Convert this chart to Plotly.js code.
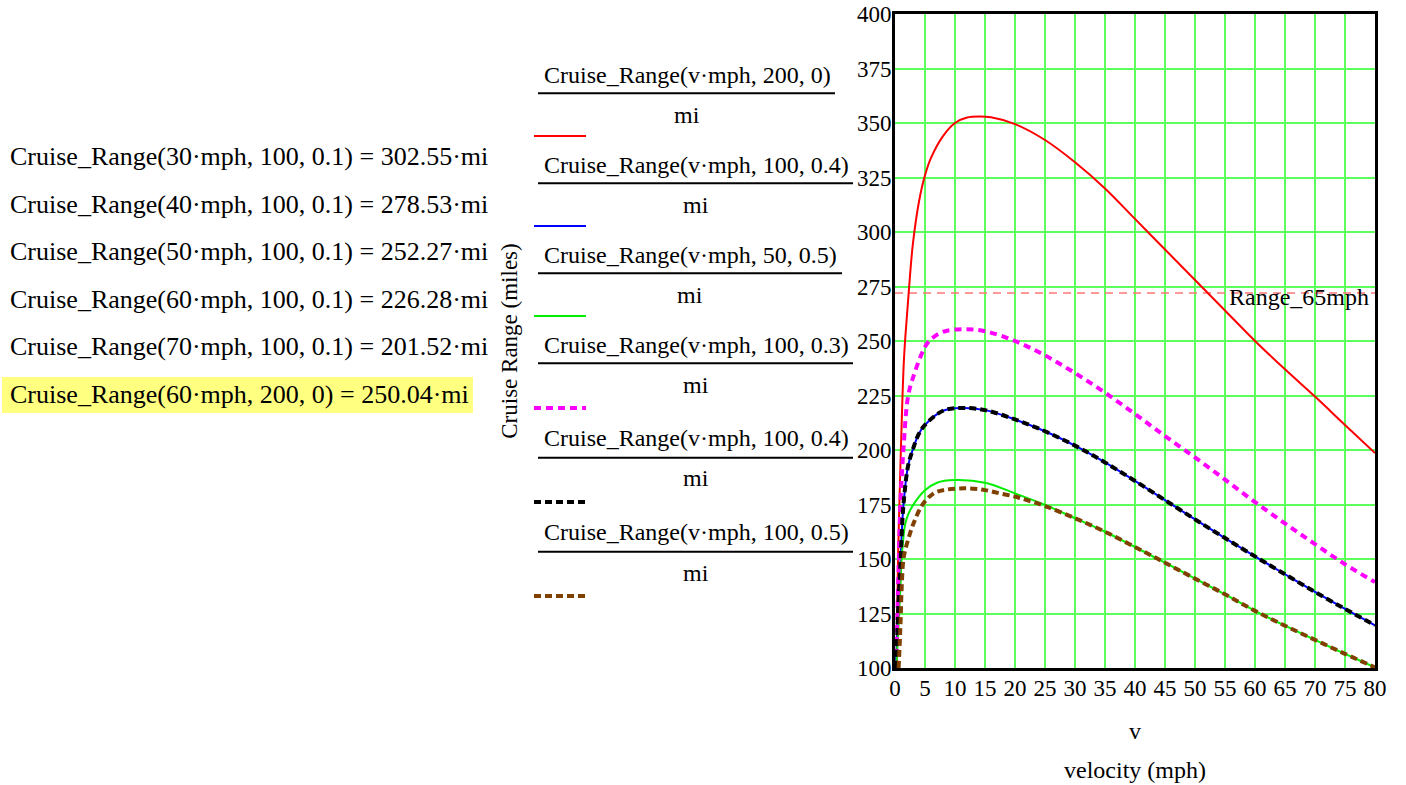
<!DOCTYPE html>
<html>
<head>
<meta charset="utf-8">
<script src="https://cdn.plot.ly/plotly-3.0.1.min.js"></script>
<style>
html,body{margin:0;padding:0;background:#fff;}
#chart{width:1406px;height:785px;}
</style>
</head>
<body>
<div id="chart"></div>
<script>
// ---------------- DATA ----------------
// velocity samples (mph) and Cruise Range (miles)
const vRed = [0.25, 0.5, 0.75, 1, 1.5, 2, 2.5, 3, 4, 5, 6, 8, 10, 12, 14, 16, 20, 25, 30, 35, 40, 45, 50, 55, 60, 65, 70, 75, 80];
const rangeRed = [100, 150, 177, 202, 242, 262, 280, 295, 314, 326, 334, 344, 350, 352.5, 353, 352.6, 349.5, 342.2, 332, 320, 306, 292, 278, 264, 250, 237, 224.5, 211.5, 198.6];

const vBlue = [0.1, 0.3, 0.55, 0.85, 1.0, 1.4, 2.2, 2.95, 3.9, 5, 8, 11, 15, 20, 25, 30, 35, 40, 45, 50, 55, 60, 65, 70, 75, 80];
const rangeBlue = [100, 110, 128, 144, 154, 174.5, 193, 200, 207, 211.5, 218, 219.3, 218.3, 214, 208.6, 202, 194.3, 185.8, 177, 168.2, 159.6, 151.2, 143, 134.9, 127.1, 119.6];

const vGreen = [0.2, 0.3, 0.6, 0.9, 1.1, 1.3, 1.7, 2.2, 3.2, 5, 7, 10, 15, 20, 25, 30, 35, 40, 45, 50, 55, 60, 65, 70, 75, 80];
const rangeGreen = [100, 105, 120, 137, 150, 157, 166, 170.5, 175.5, 181.5, 185, 186.2, 185, 180.1, 174.8, 168.7, 162.5, 155.5, 148.3, 141, 133.8, 126.2, 119.4, 112.9, 106.5, 100.3];

const vMagenta = [0.2, 0.4, 0.6, 0.9, 1.4, 2.2, 3.1, 4.5, 5.6, 8, 11.4, 15, 20, 25, 30, 35, 40, 45, 50, 55, 60, 65, 70, 75, 80];
const rangeMagenta = [100, 125, 146, 175, 200, 225, 234, 244.4, 249.7, 254.2, 255.4, 254.5, 250, 243.4, 235.3, 226.3, 216.5, 206.4, 196.6, 186.4, 176.1, 166.3, 156.8, 147.6, 139.4];

const vBlack = vBlue;
const rangeBlack = rangeBlue;

const vBrown = [0.6, 0.8, 0.95, 1.1, 1.4, 1.7, 2.2, 3.1, 4.6, 6.4, 8.3, 12, 15, 17.5, 20, 22, 25, 30, 35, 40, 45, 50, 55, 60, 65, 70, 75, 80];
const rangeBrown = [100, 112, 123, 136, 150, 154, 159, 166.4, 175, 180, 181.7, 182.4, 181.6, 180.1, 178.6, 177, 174.3, 168.7, 162.5, 155.5, 148.3, 141, 133.8, 126.2, 119.4, 112.9, 106.5, 100.3];

const range65mph = 272;
const range65Label = "Range_65mph";

const seriesLabels = [
  "Cruise_Range(v·mph, 200, 0)",
  "Cruise_Range(v·mph, 100, 0.4)",
  "Cruise_Range(v·mph, 50, 0.5)",
  "Cruise_Range(v·mph, 100, 0.3)",
  "Cruise_Range(v·mph, 100, 0.4)",
  "Cruise_Range(v·mph, 100, 0.5)"
];
const denominator = "mi";

const leftLines = [
  "Cruise_Range(30·mph, 100, 0.1) = 302.55·mi",
  "Cruise_Range(40·mph, 100, 0.1) = 278.53·mi",
  "Cruise_Range(50·mph, 100, 0.1) = 252.27·mi",
  "Cruise_Range(60·mph, 100, 0.1) = 226.28·mi",
  "Cruise_Range(70·mph, 100, 0.1) = 201.52·mi",
  "Cruise_Range(60·mph, 200, 0) = 250.04·mi"
];

const xTitle = "velocity (mph)";
const xVarName = "v";
const yTitle = "Cruise Range (miles)";

// ---------------- STYLE / LAYOUT ----------------
const FONT = "Liberation Serif, Times New Roman, serif";
const W = 1406, H = 785;
const PL = 895, PR = 1375, PT = 14, PB = 668;
const xp = px => (px - PL) / (PR - PL);
const yp = py => (PB - py) / (PB - PT);

const styles = [
  {color: "#ff0000", width: 2, dash: "solid"},
  {color: "#0000ff", width: 2, dash: "solid"},
  {color: "#00ee00", width: 2, dash: "solid"},
  {color: "#ff00ff", width: 4, dash: "7px,5px"},
  {color: "#000000", width: 4, dash: "7px,4px"},
  {color: "#804000", width: 4, dash: "7px,4px"}
];
const xs = [vRed, vBlue, vGreen, vMagenta, vBlack, vBrown];
const ys = [rangeRed, rangeBlue, rangeGreen, rangeMagenta, rangeBlack, rangeBrown];

const xRange = [0, 80];
const traces = [];
traces.push({
  x: xRange, y: xRange.map(() => range65mph), mode: "lines", type: "scatter",
  line: {color: "#ff7777", width: 1.5, dash: "8px,6px"}, hoverinfo: "skip", showlegend: false
});
for (let i = 0; i < 6; i++) {
  traces.push({
    x: xs[i], y: ys[i], type: "scatter", mode: "lines", name: seriesLabels[i],
    line: {color: styles[i].color, width: styles[i].width, dash: styles[i].dash, shape: "spline", smoothing: 1},
    showlegend: false
  });
}

const annotations = [];
const shapes = [];

// legend-like fractions
const numY = [75, 165, 255, 345, 438, 532];
const barY = [93.3, 183.3, 273.3, 363.3, 457.7, 551.7];
const miY = [115, 205, 295, 385, 478, 573];
const sampY = [136, 226, 316, 408, 502, 596];
const barEnd = [835, 853, 842, 853, 853, 853];
for (let i = 0; i < 6; i++) {
  annotations.push({xref: "paper", yref: "paper", x: xp(542), y: yp(numY[i]), xanchor: "left", yanchor: "middle",
    text: seriesLabels[i], showarrow: false, font: {family: FONT, size: 24, color: "#000"}});
  shapes.push({type: "line", xref: "paper", yref: "paper", x0: xp(538), x1: xp(barEnd[i]), y0: yp(barY[i]), y1: yp(barY[i]),
    line: {color: "#000", width: 2}});
  annotations.push({xref: "paper", yref: "paper", x: xp((538 + barEnd[i]) / 2), y: yp(miY[i]), xanchor: "center", yanchor: "middle",
    text: denominator, showarrow: false, font: {family: FONT, size: 24, color: "#000"}});
  shapes.push({type: "line", xref: "paper", yref: "paper", x0: xp(534), x1: xp(586), y0: yp(sampY[i]), y1: yp(sampY[i]),
    line: {color: styles[i].color, width: styles[i].width, dash: styles[i].dash}});
}

// left evaluated expressions
const leftY = [156.5, 204, 251.5, 299, 347, 395];
shapes.push({type: "rect", xref: "paper", yref: "paper", x0: xp(2), x1: xp(473), y0: yp(413), y1: yp(377),
  fillcolor: "#ffff80", line: {width: 0}, layer: "below"});
for (let i = 0; i < leftLines.length; i++) {
  annotations.push({xref: "paper", yref: "paper", x: xp(8), y: yp(leftY[i]), xanchor: "left", yanchor: "middle",
    text: leftLines[i], showarrow: false, font: {family: FONT, size: 26, color: "#000"}});
}

// Range_65mph label
annotations.push({xref: "x", yref: "y", x: xRange[1], y: range65mph, xanchor: "right", yanchor: "middle",
  xshift: -4, yshift: -4, text: range65Label, showarrow: false, font: {family: FONT, size: 24, color: "#000"}});

// variable name under axis
annotations.push({xref: "paper", yref: "paper", x: 0.5, y: yp(731), xanchor: "center", yanchor: "middle",
  text: xVarName, showarrow: false, font: {family: FONT, size: 24, color: "#000"}});

const layout = {
  width: W, height: H,
  margin: {l: PL, r: W - PR, t: PT, b: H - PB, pad: 0},
  paper_bgcolor: "#fff", plot_bgcolor: "#fff",
  showlegend: false,
  font: {family: FONT, size: 23, color: "#000"},
  xaxis: {
    range: xRange, dtick: 5, tick0: 0, ticks: "", showgrid: true, gridcolor: "#5cff5c", gridwidth: 2,
    zeroline: false, showline: true, linecolor: "#000", linewidth: 3, mirror: true,
    ticklabelstandoff: -3,
    tickfont: {family: FONT, size: 23, color: "#000"},
    title: {text: xTitle, font: {family: FONT, size: 24, color: "#000"}, standoff: 62}
  },
  yaxis: {
    range: [100, 400], dtick: 25, tick0: 100, ticks: "", showgrid: true, gridcolor: "#5cff5c", gridwidth: 2,
    zeroline: false, showline: true, linecolor: "#000", linewidth: 3, mirror: true,
    ticklabelstandoff: -4,
    tickfont: {family: FONT, size: 23, color: "#000"},
    title: {text: yTitle, font: {family: FONT, size: 23, color: "#000"}, standoff: 333}
  },
  annotations: annotations,
  shapes: shapes
};

Plotly.newPlot("chart", traces, layout, {displayModeBar: false, staticPlot: true});
</script>
</body>
</html>
